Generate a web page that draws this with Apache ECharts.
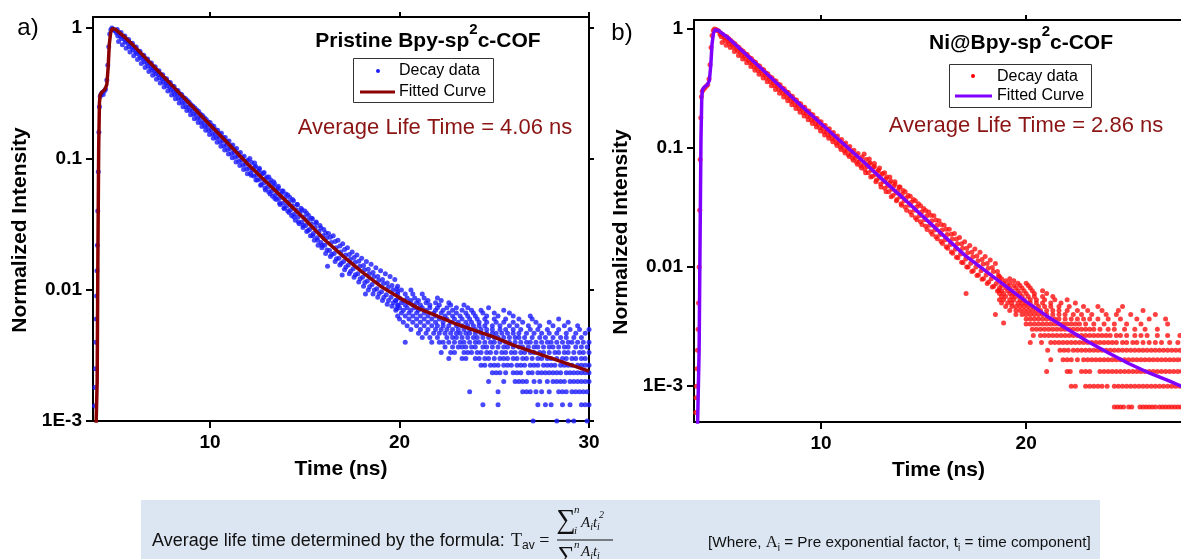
<!DOCTYPE html>
<html><head><meta charset="utf-8">
<script src="https://cdn.jsdelivr.net/npm/echarts@6/dist/echarts.min.js"></script>
<style>html,body{margin:0;padding:0;background:#fff}#c{width:1181px;height:559px}</style>
</head><body><div id="c"></div>
<script>
// ---------- axis ticks ----------
const xTicksA = [10, 20, 30];
const xTicksB = [10, 20];
const yTickValues = [0.001, 0.01, 0.1, 1];
const yTickText = ['1E-3', '0.01', '0.1', '1'];

// ---------- panel a: fitted curve ----------
const fitA_t = [3.95, 4.04, 4.08, 4.12, 4.16, 4.2, 4.3, 4.45, 4.55, 4.62, 4.68, 4.75, 4.82, 4.9, 5.0, 5.5, 6, 7, 8, 9, 10, 11, 12, 13, 14, 15, 16, 17, 18, 19, 20, 21, 22, 23, 24, 25, 26, 27, 28, 29, 30];
const fitA_y = [0.0006, 0.002, 0.02, 0.12, 0.27, 0.31, 0.325, 0.34, 0.37, 0.5, 0.75, 0.92, 0.985, 0.99, 0.977, 0.851, 0.724, 0.513, 0.363, 0.257, 0.182, 0.129, 0.0912, 0.0661, 0.0479, 0.0347, 0.0245, 0.0182, 0.0138, 0.0107, 0.00871, 0.00724, 0.00631, 0.0055, 0.0049, 0.00437, 0.0038, 0.00339, 0.00302, 0.00269, 0.0024];

// ---------- panel a: decay data (dense band) ----------
const decayA_band = [
[3.9,0.0013],[3.92,0.0018],[3.95,0.0025],[3.97,0.004],[3.99,0.006],[4.01,0.009],[4.03,0.014],[4.05,0.022],[4.07,0.04],[4.1,0.08],[4.13,0.16],[4.16,0.25],[4.2,0.3],[4.25,0.31],[4.3,0.32],[4.36,0.31],[4.42,0.33],[4.48,0.34],[4.55,0.4],[4.6,0.52],[4.65,0.72],[4.7,0.9],[4.76,0.97],[4.82,1.0],[4.88,0.98],[4.94,0.96],
[5.0,0.95],[5.07,0.91],[5.13,0.87],[5.2,0.92],[5.27,0.86],[5.33,0.83],[5.4,0.86],[5.47,0.82],[5.53,0.78],
[5.6,0.80],[5.67,0.76],[5.73,0.72],[5.8,0.76],[5.87,0.71],[5.93,0.68],[6.0,0.71],[6.07,0.66],[6.13,0.64],
[6.2,0.66],[6.27,0.62],[6.33,0.59],[6.4,0.62],[6.47,0.58],[6.53,0.55],[6.6,0.58],[6.67,0.54],[6.73,0.51],
[6.8,0.54],[6.87,0.50],[6.93,0.475],[7.0,0.50],[7.07,0.47],[7.13,0.445],[7.2,0.47],[7.27,0.44],[7.33,0.415],
[7.4,0.44],[7.47,0.41],[7.53,0.385],[7.6,0.41],[7.67,0.38],[7.73,0.36],[7.8,0.385],[7.87,0.355],[7.93,0.335],
[8.0,0.36],[8.07,0.33],[8.13,0.31],[8.2,0.335],[8.27,0.31],[8.33,0.29],[8.4,0.315],[8.47,0.29],[8.53,0.27],
[8.6,0.295],[8.67,0.27],[8.73,0.25],[8.8,0.28],[8.87,0.25],[8.93,0.235],[9.0,0.26],[9.07,0.235],[9.13,0.22],
[9.2,0.245],[9.27,0.22],[9.33,0.205],[9.4,0.23],[9.47,0.205],[9.53,0.19],[9.6,0.215],[9.67,0.19],[9.73,0.178],
[9.8,0.2],[9.87,0.178],[9.93,0.165],[10.0,0.19],[10.07,0.167],[10.13,0.155],[10.2,0.178],[10.27,0.155],[10.33,0.145],
[10.4,0.166],[10.47,0.146],[10.53,0.135],[10.6,0.157],[10.67,0.137],[10.73,0.126],[10.8,0.146],[10.87,0.128],[10.93,0.118],
[11.0,0.137],[11.07,0.12],[11.13,0.11],[11.2,0.128],[11.27,0.112],[11.33,0.103],[11.4,0.12],[11.47,0.105],[11.53,0.096],
[11.6,0.112],[11.67,0.098],[11.73,0.09],[11.8,0.105],[11.87,0.091],[11.93,0.084],[12.0,0.098],[12.07,0.085],[12.13,0.078],
[5.1,0.975],[5.17,0.79],[5.3,0.925],[5.37,0.745],[5.5,0.87],[5.57,0.70],[5.7,0.815],[5.77,0.655],[5.9,0.765],[5.97,0.615],
[6.1,0.715],[6.17,0.575],[6.3,0.665],[6.37,0.535],[6.5,0.62],[6.57,0.50],[6.7,0.58],[6.77,0.466],[6.9,0.54],[6.97,0.435],
[7.1,0.505],[7.17,0.407],[7.3,0.472],[7.37,0.38],[7.5,0.44],[7.57,0.354],[7.7,0.41],[7.77,0.33],[7.9,0.384],[7.97,0.308],
[8.1,0.358],[8.17,0.288],[8.3,0.333],[8.37,0.268],[8.5,0.311],[8.57,0.25],[8.7,0.29],[8.77,0.234],[8.9,0.271],[8.97,0.218],
[9.1,0.253],[9.17,0.203],[9.3,0.237],[9.37,0.19],[9.5,0.22],[9.57,0.177],[9.7,0.206],[9.77,0.166],[9.9,0.192],[9.97,0.154],
[10.1,0.18],[10.17,0.144],[10.3,0.167],[10.37,0.134],[10.5,0.156],[10.57,0.125],[10.7,0.146],[10.77,0.117],[10.9,0.136],[10.97,0.109],
[11.1,0.126],[11.17,0.102],[11.3,0.118],[11.37,0.095],[11.5,0.11],[11.57,0.089],[11.7,0.103],[11.77,0.083],[11.9,0.096],[11.97,0.077],
[12.2,0.094],[12.25,0.082],[12.3,0.074],[12.35,0.087],[12.4,0.088],[12.45,0.075],[12.5,0.069],[12.55,0.081],
[12.6,0.083],[12.65,0.07],[12.7,0.064],[12.75,0.077],[12.8,0.078],[12.85,0.066],[12.9,0.06],[12.95,0.071],
[13.0,0.073],[13.05,0.061],[13.1,0.056],[13.15,0.066],[13.2,0.069],[13.25,0.057],[13.3,0.052],[13.35,0.062],
[13.4,0.065],[13.45,0.053],[13.5,0.049],[13.55,0.058],[13.6,0.06],[13.65,0.05],[13.7,0.045],[13.75,0.054],
[13.8,0.057],[13.85,0.046],[13.9,0.042],[13.95,0.05],[14.0,0.054],[14.05,0.044],[14.1,0.04],[14.15,0.047],
[14.2,0.051],[14.25,0.041],[14.3,0.037],[14.35,0.044],[14.4,0.048],[14.45,0.038],[14.5,0.034],[14.55,0.041],
[14.6,0.045],[14.65,0.036],[14.7,0.032],[14.75,0.039],[14.8,0.042],[14.85,0.033],[14.9,0.03],[14.95,0.036],
[15.0,0.04],[15.05,0.031],[15.1,0.028],[15.15,0.034],[15.2,0.037],[15.25,0.029],[15.3,0.026],[15.35,0.032],
[15.4,0.035],[15.45,0.027],[15.5,0.024],[15.55,0.03],[15.6,0.033],[15.65,0.025],[15.7,0.022],[15.75,0.028],
[15.8,0.031],[15.85,0.023],[15.9,0.021],[15.95,0.026],[16.0,0.029],[16.05,0.022],[16.1,0.019],[16.15,0.025],
[16.25,0.027],[16.3,0.02],[16.35,0.018],[16.4,0.023],[16.5,0.026],[16.55,0.019],[16.6,0.0165],[16.65,0.021],
[16.75,0.024],[16.8,0.0175],[16.85,0.0155],[16.9,0.0195],[17.0,0.0225],[17.05,0.0165],[17.1,0.0143],[17.15,0.0185],
[17.25,0.021],[17.3,0.0155],[17.35,0.0133],[17.4,0.0172],[17.5,0.0195],[17.55,0.0145],[17.6,0.0125],[17.65,0.0163],
[17.75,0.0185],[17.8,0.0133],[17.85,0.0115],[17.9,0.0152],[18.0,0.0175],[18.05,0.0125],[18.1,0.0107],[18.15,0.0143],
[18.25,0.0165],[18.3,0.0117],[18.35,0.01],[18.4,0.0133],[18.5,0.0157],[18.55,0.011],[18.6,0.0093],[18.65,0.0127],
[18.75,0.0148],[18.8,0.0102],[18.85,0.0088],[18.9,0.0118],[19.0,0.014],[19.05,0.0097],[19.1,0.0083],[19.15,0.0112],
[19.25,0.0133],[19.3,0.0092],[19.35,0.0078],[19.4,0.0105],[19.5,0.0127],[19.55,0.0088],[19.6,0.0075],[19.65,0.01],
[19.75,0.012],[19.8,0.0083],[19.85,0.0072],[19.9,0.0097],
[12.1,0.101],[12.17,0.075],[12.35,0.093],[12.42,0.069],[12.6,0.085],[12.67,0.063],[12.85,0.079],[12.92,0.058],
[13.1,0.073],[13.17,0.054],[13.35,0.067],[13.42,0.05],[13.6,0.062],[13.67,0.046],[13.85,0.057],[13.92,0.042],
[14.1,0.053],[14.17,0.039],[14.35,0.049],[14.42,0.036],[14.6,0.045],[14.67,0.033],[14.85,0.041],[14.92,0.031],
[15.1,0.0385],[15.17,0.0285],[15.35,0.0353],[15.42,0.026],[15.6,0.0324],[15.67,0.024],[15.85,0.0297],[15.92,0.022],
[16.1,0.0274],[16.17,0.0202],[16.35,0.0253],[16.42,0.0187],[16.6,0.0235],[16.67,0.0173],[16.85,0.0217],[16.92,0.016],
[17.1,0.0204],[17.17,0.015],[17.35,0.0187],[17.42,0.0139],[17.6,0.0177],[17.67,0.0131],[17.85,0.0166],[17.92,0.0122],
[18.1,0.0154],[18.17,0.0114],[18.35,0.0144],[18.42,0.0106],[18.6,0.0136],[18.67,0.01],[18.85,0.0127],[18.92,0.0094],
[19.1,0.012],[19.17,0.0088],[19.35,0.0113],[19.42,0.0083],[19.6,0.0108],[19.67,0.008],[19.85,0.0102],[19.92,0.0076],
[16.2,0.0152],[16.97,0.013],[18.2,0.0093],[20.3,0.004]
];
// ---------- panel a: decay data (discrete count rows, level + times) ----------
const decayA_rows = [
[0.001,   [27.05, 28.3, 28.9, 29.2, 29.9]],
[0.00133, [24.4, 25.2, 27.3, 27.7, 28.0, 28.6, 29.0, 29.6, 29.8, 30.0]],
[0.00167, [23.7, 25.2, 26.5, 26.7, 26.9, 27.2, 27.5, 27.9, 28.4, 28.6, 28.8, 29.1, 29.3, 29.5, 29.7, 29.9]],
[0.002,   [24.7, 25.5, 26.1, 26.3, 26.5, 26.7, 27.1, 27.4, 27.8, 28.1, 28.3, 28.5, 28.7, 29.0, 29.2, 29.4, 29.6, 29.8, 30.0]],
[0.00233, [24.9, 25.1, 25.3, 25.6, 26.0, 26.2, 26.4, 26.8, 27.0, 27.3, 27.5, 27.7, 27.9, 28.1, 28.3, 28.5, 28.8, 29.0, 29.2, 29.4, 29.6, 29.8, 30.0]],
[0.00267, [24.3, 24.5, 24.8, 25.0, 25.2, 25.5, 25.7, 25.9, 26.2, 26.4, 26.6, 26.9, 27.1, 27.3, 27.6, 27.8, 28.0, 28.2, 28.5, 28.7, 28.9, 29.1, 29.4, 29.6, 29.8, 30.0]],
[0.003,   [22.6, 23.3, 23.5, 24.0, 24.2, 24.5, 24.7, 25.0, 25.3, 25.5, 25.7, 26.0, 26.2, 26.5, 26.7, 27.0, 27.3, 27.5, 27.8, 28.0, 28.3, 28.6, 28.8, 29.1, 29.3, 29.6, 29.8]],
[0.00333, [22.2, 22.7, 22.9, 23.4, 23.6, 23.8, 24.1, 24.3, 24.6, 24.8, 25.1, 25.4, 25.6, 25.9, 26.1, 26.4, 26.6, 26.9, 27.1, 27.4, 27.6, 27.9, 28.2, 28.4, 28.7, 28.9, 29.2, 29.5, 29.7, 30.0]],
[0.00367, [22.4, 22.8, 23.1, 23.3, 23.5, 23.8, 24.0, 24.4, 24.6, 24.9, 25.2, 25.5, 25.7, 26.0, 26.3, 26.5, 26.8, 27.1, 27.3, 27.6, 27.9, 28.1, 28.4, 28.7, 28.9, 29.3, 29.6, 29.9]],
[0.004,   [21.7, 22.1, 22.3, 22.6, 22.9, 23.2, 23.4, 23.7, 24.0, 24.2, 24.5, 24.8, 25.0, 25.3, 25.6, 25.8, 26.1, 26.4, 26.7, 26.9, 27.2, 27.5, 27.8, 28.0, 28.3, 28.6, 28.9, 29.1, 29.4, 29.7, 30.0]],
[0.00433, [21.2, 21.6, 22.0, 22.5, 22.8, 23.0, 23.3, 23.6, 23.9, 24.1, 24.4, 24.7, 25.0, 25.2, 25.5, 25.8, 26.1, 26.3, 26.6, 27.0, 27.4, 27.7, 28.1, 28.5, 28.8, 29.2, 29.6]],
[0.00467, [21.0, 21.4, 21.8, 22.1, 22.4, 22.7, 23.0, 23.2, 23.5, 23.7, 24.0, 24.3, 24.6, 24.9, 25.1, 25.4, 25.7, 26.0, 26.3, 26.7, 27.1, 27.5, 27.9, 28.3, 28.8, 29.3, 29.8]],
[0.005,   [20.6, 21.1, 21.5, 21.9, 22.2, 22.5, 22.8, 23.1, 23.4, 23.7, 24.0, 24.3, 24.6, 24.9, 25.3, 25.6, 26.0, 26.4, 26.9, 27.3, 27.8, 28.4, 29.0, 29.5, 30.0]],
[0.00533, [20.4, 20.9, 21.3, 21.7, 22.0, 22.3, 22.6, 23.0, 23.3, 23.6, 23.9, 24.2, 24.5, 24.9, 25.3, 25.8, 26.2, 26.8, 27.4, 28.1, 28.7, 29.4]],
[0.00567, [20.2, 20.7, 21.1, 21.5, 21.9, 22.3, 22.7, 23.1, 23.5, 23.8, 24.2, 24.6, 25.1, 25.5, 26.0, 26.5, 27.2, 27.9, 28.9]],
[0.006,   [20.0, 20.5, 20.9, 21.3, 21.7, 22.1, 22.5, 22.9, 23.3, 23.7, 24.1, 24.5, 25.0, 25.6, 26.3, 27.0, 28.4]],
[0.00633, [19.9, 20.3, 20.7, 21.1, 21.5, 21.9, 22.4, 22.8, 23.2, 23.6, 24.0, 24.6, 25.2, 26.0, 26.9]],
[0.00667, [20.1, 20.5, 20.9, 21.3, 21.8, 22.2, 22.6, 23.0, 23.5, 23.9, 24.4, 25.0, 25.8]],
[0.007,   [19.8, 20.2, 20.6, 21.0, 21.4, 21.9, 22.3, 22.8, 23.3, 23.8, 24.3, 25.5]],
[0.00733, [20.0, 20.4, 20.8, 21.2, 21.6, 22.0, 22.5, 23.0, 23.6, 24.7]],
[0.00767, [19.9, 20.3, 20.7, 21.1, 21.6, 22.1, 22.7, 23.4]],
[0.008,   [20.1, 20.5, 20.9, 21.4, 21.9, 22.6]],
[0.00833, [19.8, 20.2, 20.6, 21.0, 21.5, 22.2]],
[0.00867, [20.0, 20.4, 20.8, 21.3, 22.0]],
[0.00933, [19.9, 20.3, 20.7, 21.2]],
[0.01,    [20.1, 20.6]],
[0.0107,  [19.9]]
];

// ---------- panel b: fitted curve ----------
const fitB_t = [3.95, 4.05, 4.1, 4.14, 4.18, 4.22, 4.3, 4.45, 4.55, 4.62, 4.68, 4.75, 4.82, 4.9, 5.0, 5.5, 6, 7, 8, 9, 10, 11, 12, 13, 14, 15, 16, 17, 18, 19, 20, 21, 22, 23, 24, 25, 26, 27, 28];
const fitB_y = [0.0003, 0.002, 0.02, 0.12, 0.27, 0.31, 0.325, 0.34, 0.37, 0.5, 0.75, 0.92, 0.985, 0.99, 0.97, 0.832, 0.692, 0.479, 0.331, 0.229, 0.16, 0.112, 0.0785, 0.0543, 0.038, 0.0263, 0.0182, 0.0126, 0.00933, 0.00692, 0.00513, 0.00389, 0.00302, 0.00237, 0.00191, 0.00155, 0.00129, 0.0011, 0.00093];

// ---------- panel b: decay data (dense band) ----------
const decayB_band = [
[3.88,0.0006],[3.9,0.0008],[3.92,0.001],[3.95,0.0014],[3.97,0.002],[4.0,0.003],[4.02,0.005],[4.05,0.01],[4.08,0.03],[4.1,0.08],[4.13,0.18],[4.16,0.27],[4.2,0.3],[4.26,0.31],[4.32,0.32],[4.4,0.33],[4.47,0.34],[4.53,0.38],[4.58,0.5],[4.63,0.7],[4.68,0.88],[4.74,0.97],[4.8,1.0],[4.88,0.99],[4.94,0.97],
[5.0,0.96],[5.07,0.9],[5.13,0.86],[5.2,0.9],[5.27,0.84],[5.33,0.8],[5.4,0.86],[5.47,0.79],[5.53,0.75],
[5.6,0.8],[5.67,0.74],[5.73,0.7],[5.8,0.75],[5.87,0.69],[5.93,0.65],[6.0,0.7],[6.07,0.64],[6.13,0.6],
[6.2,0.65],[6.27,0.6],[6.33,0.56],[6.4,0.61],[6.47,0.55],[6.53,0.52],[6.6,0.565],[6.67,0.515],[6.73,0.48],
[6.8,0.525],[6.87,0.48],[6.93,0.445],[7.0,0.49],[7.07,0.445],[7.13,0.415],[7.2,0.455],[7.27,0.415],[7.33,0.385],
[7.4,0.42],[7.47,0.385],[7.53,0.36],[7.6,0.39],[7.67,0.355],[7.73,0.333],[7.8,0.365],[7.87,0.33],[7.93,0.31],
[8.0,0.34],[8.07,0.308],[8.13,0.287],[8.2,0.315],[8.27,0.287],[8.33,0.266],[8.4,0.293],[8.47,0.266],[8.53,0.247],
[8.6,0.272],[8.67,0.247],[8.73,0.23],[8.8,0.253],[8.87,0.229],[8.93,0.213],[9.0,0.236],[9.07,0.213],[9.13,0.198],
[9.2,0.22],[9.27,0.198],[9.33,0.184],[9.4,0.205],[9.47,0.184],[9.53,0.171],[9.6,0.19],[9.67,0.171],[9.73,0.159],
[9.8,0.177],[9.87,0.16],[9.93,0.148],[10.0,0.166],[10.07,0.148],[10.13,0.137],[10.2,0.155],[10.27,0.138],[10.33,0.128],
[10.4,0.145],[10.47,0.128],[10.53,0.119],[10.6,0.135],[10.67,0.119],[10.73,0.11],[10.8,0.126],[10.87,0.111],[10.93,0.102],
[11.0,0.118],[11.07,0.103],[11.13,0.095],[11.2,0.11],[11.27,0.096],[11.33,0.088],[11.4,0.103],[11.47,0.089],[11.53,0.082],
[11.6,0.096],[11.67,0.083],[11.73,0.076],[11.8,0.09],[11.87,0.077],[11.93,0.071],[12.0,0.084],[12.07,0.072],[12.13,0.066],
[5.1,0.92],[5.17,0.77],[5.3,0.87],[5.37,0.73],[5.5,0.83],[5.57,0.70],[5.7,0.77],[5.77,0.647],[5.9,0.716],[5.97,0.60],
[6.1,0.667],[6.17,0.56],[6.3,0.62],[6.37,0.52],[6.5,0.576],[6.57,0.484],[6.7,0.535],[6.77,0.45],[6.9,0.497],[6.97,0.417],
[7.1,0.462],[7.17,0.388],[7.3,0.429],[7.37,0.36],[7.5,0.398],[7.57,0.334],[7.7,0.37],[7.77,0.311],[7.9,0.343],[7.97,0.288],
[8.1,0.319],[8.17,0.268],[8.3,0.297],[8.37,0.25],[8.5,0.275],[8.57,0.231],[8.7,0.256],[8.77,0.215],[8.9,0.238],[8.97,0.2],
[9.1,0.221],[9.17,0.186],[9.3,0.206],[9.37,0.173],[9.5,0.192],[9.57,0.161],[9.7,0.178],[9.77,0.15],[9.9,0.166],[9.97,0.139],
[10.1,0.154],[10.17,0.129],[10.3,0.144],[10.37,0.121],[10.5,0.134],[10.57,0.113],[10.7,0.125],[10.77,0.105],[10.9,0.116],[10.97,0.097],
[11.1,0.108],[11.17,0.091],[11.3,0.101],[11.37,0.085],[11.5,0.094],[11.57,0.079],[11.7,0.087],[11.77,0.073],[11.9,0.081],[11.97,0.068],
[12.2,0.08],[12.25,0.07],[12.3,0.062],[12.35,0.074],[12.4,0.075],[12.45,0.065],[12.5,0.058],[12.55,0.069],
[12.6,0.07],[12.65,0.06],[12.7,0.054],[12.75,0.064],[12.8,0.065],[12.85,0.056],[12.9,0.05],[12.95,0.06],
[13.0,0.061],[13.05,0.052],[13.1,0.046],[13.15,0.055],[13.2,0.057],[13.25,0.048],[13.3,0.043],[13.35,0.051],
[13.4,0.053],[13.45,0.045],[13.5,0.04],[13.55,0.048],[13.6,0.05],[13.65,0.042],[13.7,0.037],[13.75,0.044],
[13.8,0.047],[13.85,0.039],[13.9,0.034],[13.95,0.041],[14.0,0.044],[14.05,0.036],[14.1,0.032],[14.15,0.038],
[14.25,0.04],[14.3,0.033],[14.35,0.029],[14.4,0.035],[14.5,0.037],[14.55,0.03],[14.6,0.026],[14.65,0.032],
[14.75,0.034],[14.8,0.027],[14.85,0.024],[14.9,0.029],[15.0,0.031],[15.05,0.025],[15.1,0.022],[15.15,0.027],
[15.25,0.029],[15.3,0.0225],[15.35,0.0198],[15.4,0.0245],[15.5,0.027],[15.55,0.0205],[15.6,0.018],[15.65,0.0225],
[15.75,0.0245],[15.8,0.0188],[15.85,0.0164],[15.9,0.0205],[16.0,0.0225],[16.05,0.017],[16.1,0.0148],[16.15,0.0188],
[16.25,0.0208],[16.3,0.0155],[16.35,0.0134],[16.4,0.0172],[16.5,0.0192],[16.55,0.0141],[16.6,0.0121],[16.65,0.0157],
[16.75,0.0177],[16.8,0.0129],[16.85,0.011],[16.9,0.0144],[17.0,0.0163],[17.05,0.0117],[17.1,0.01],[17.15,0.0132],
[17.25,0.0152],[17.3,0.0108],[17.35,0.0092],[17.4,0.0122],[17.5,0.0142],[17.55,0.01],[17.6,0.0085],[17.65,0.0113],
[17.75,0.0133],[17.8,0.0093],[17.85,0.0079],[17.9,0.0106],[18.0,0.0123],[18.05,0.0086],[18.1,0.0073],[18.15,0.0098],
[18.25,0.0115],[18.3,0.008],[18.35,0.0068],[18.4,0.0092],[18.5,0.0107],[18.55,0.0073],[18.6,0.0063],[18.65,0.0085],
[12.1,0.089],[12.17,0.062],[12.35,0.081],[12.42,0.057],[12.6,0.074],[12.67,0.052],[12.85,0.068],[12.92,0.047],
[13.1,0.062],[13.17,0.043],[13.35,0.057],[13.42,0.039],[13.6,0.052],[13.67,0.036],[13.85,0.047],[13.92,0.033],
[14.1,0.043],[14.17,0.03],[14.35,0.0394],[14.42,0.0274],[14.6,0.036],[14.67,0.025],[14.85,0.0328],[14.92,0.0228],
[15.1,0.0299],[15.17,0.0207],[15.35,0.0273],[15.42,0.0189],[15.6,0.0249],[15.67,0.0173],[15.85,0.0228],[15.92,0.0158],
[16.1,0.0208],[16.17,0.0144],[16.35,0.0189],[16.42,0.0131],[16.6,0.0172],[16.67,0.012],[16.85,0.0157],[16.92,0.0109],
[17.1,0.0144],[17.17,0.01],[17.35,0.0133],[17.42,0.0093],[17.6,0.0124],[17.67,0.0086],[17.85,0.0116],[17.92,0.008],
[18.1,0.0107],[18.17,0.0075],[18.35,0.0099],[18.42,0.0069],[18.6,0.0092],[18.67,0.0064],
[17.07,0.006],[18.5,0.004],[18.9,0.0034]
];
// ---------- panel b: decay data (discrete count rows, level + times) ----------
const decayB_rows = [
[0.000667,[24.3, 24.45, 24.6, 24.75, 25.0, 25.15, 25.55, 25.7, 25.85, 26.0, 26.15, 26.3, 26.5, 26.65, 26.8, 26.95, 27.1, 27.25, 27.4, 27.55]],
[0.001,   [22.2, 22.4, 22.9, 23.1, 23.3, 23.5, 23.7, 23.95, 24.3, 24.5, 24.7, 24.9, 25.1, 25.3, 25.5, 25.7, 25.9, 26.1, 26.3, 26.5, 26.7, 26.9, 27.1, 27.3, 27.5]],
[0.00133, [21.0, 22.0, 22.15, 22.7, 22.9, 23.1, 23.6, 23.8, 24.0, 24.2, 24.4, 24.6, 24.8, 25.0, 25.2, 25.4, 25.6, 25.8, 26.0, 26.2, 26.4, 26.6, 26.8, 27.0, 27.2, 27.4, 27.6]],
[0.00167, [21.2, 21.8, 22.0, 22.2, 22.5, 22.8, 23.0, 23.2, 23.4, 23.6, 23.8, 24.0, 24.2, 24.4, 24.6, 24.8, 25.0, 25.2, 25.4, 25.6, 25.8, 26.0, 26.2, 26.4, 26.6, 26.8, 27.0, 27.2, 27.4, 27.6]],
[0.002,   [21.05, 21.65, 21.85, 22.05, 22.3, 22.5, 22.7, 22.9, 23.1, 23.3, 23.5, 23.7, 23.9, 24.1, 24.3, 24.5, 24.7, 24.9, 25.1, 25.3, 25.5, 25.7, 25.9, 26.1, 26.3, 26.5, 26.7, 26.9, 27.1, 27.3, 27.5]],
[0.00233, [20.2, 20.75, 21.2, 21.4, 21.6, 21.8, 22.0, 22.2, 22.4, 22.6, 22.8, 23.0, 23.2, 23.4, 23.6, 23.8, 24.0, 24.2, 24.4, 24.7, 24.9, 25.2, 25.4, 25.7, 26.0, 26.3, 26.6, 27.0, 27.4]],
[0.00267, [20.35, 20.7, 20.9, 21.1, 21.3, 21.5, 21.7, 21.9, 22.1, 22.3, 22.5, 22.7, 22.9, 23.1, 23.3, 23.5, 23.7, 23.9, 24.1, 24.4, 24.6, 24.9, 25.3, 25.6, 25.9, 26.4, 26.9, 27.5]],
[0.003,   [20.3, 20.5, 20.7, 20.9, 21.1, 21.3, 21.5, 21.7, 21.9, 22.1, 22.3, 22.5, 22.7, 22.9, 23.1, 23.3, 23.6, 24.0, 24.3, 24.8, 25.3, 25.8, 26.4]],
[0.00333, [20.0, 20.2, 20.4, 20.6, 20.8, 21.0, 21.2, 21.4, 21.6, 21.8, 22.0, 22.2, 22.4, 22.6, 22.9, 23.3, 23.8, 24.3, 24.9, 25.6, 26.9]],
[0.00367, [20.0, 20.2, 20.4, 20.6, 20.8, 21.0, 21.2, 21.4, 21.6, 21.9, 22.2, 22.5, 22.8, 23.1, 23.5, 24.0, 24.6, 25.4, 26.0, 26.8]],
[0.004,   [19.5, 19.8, 20.0, 20.2, 20.4, 20.6, 20.8, 21.0, 21.3, 21.6, 21.9, 22.3, 22.7, 23.2, 23.9, 24.4, 25.1, 26.3]],
[0.00433, [19.2, 19.5, 19.7, 19.9, 20.1, 20.3, 20.5, 20.7, 21.0, 21.3, 21.6, 22.0, 22.5, 23.0, 23.7, 24.5, 25.7]],
[0.00467, [19.0, 19.3, 19.5, 19.7, 19.9, 20.1, 20.3, 20.6, 20.9, 21.2, 21.6, 22.1, 22.8, 23.5, 24.7]],
[0.005,   [18.8, 19.1, 19.3, 19.6, 19.8, 20.0, 20.2, 20.5, 20.8, 21.2, 21.7, 22.4]],
[0.00533, [18.7, 18.9, 19.2, 19.4, 19.7, 19.9, 20.2, 20.5, 20.9, 21.4, 22.0]],
[0.00567, [18.8, 19.0, 19.3, 19.5, 19.8, 20.1, 20.4, 20.8, 21.3]],
[0.006,   [18.7, 18.9, 19.2, 19.4, 19.7, 20.0, 20.4, 21.0]],
[0.00633, [18.8, 19.1, 19.3, 19.6, 19.9, 20.3, 20.8]],
[0.00667, [18.7, 19.0, 19.2, 19.5, 19.8, 20.2]],
[0.007,   [18.8, 19.1, 19.4, 19.7, 20.1]],
[0.00733, [18.9, 19.2, 19.6, 20.0]],
[0.00767, [18.7, 19.0, 19.4]],
[0.008,   [18.8, 19.2]],
[0.00833, [18.7]]
];

// ---------- build series data ----------
function rowsToPoints(rows) {
  const out = [];
  rows.forEach(function (r) { r[1].forEach(function (t) { out.push([t, r[0]]); }); });
  return out;
}
const scatterA = decayA_band.concat(rowsToPoints(decayA_rows));
const scatterB = decayB_band.concat(rowsToPoints(decayB_rows));
const fitA = fitA_t.map(function (t, i) { return [t, fitA_y[i]]; });
const fitB = fitB_t.map(function (t, i) { return [t, fitB_y[i]]; });

const FF = '"Liberation Sans", Arial, Helvetica, sans-serif';
const SERIF = '"Liberation Serif", "Times New Roman", serif';
const tickFont = { fontFamily: FF, fontWeight: 'bold', fontSize: 19, color: '#000' };
const axisLineStyle = { color: '#000', width: 2 };

function yLabel(v) {
  for (let i = 0; i < yTickValues.length; i++) {
    if (Math.abs(Math.log10(v) - Math.log10(yTickValues[i])) < 1e-6) return yTickText[i];
  }
  return '';
}

function xBottom(grid, min, max, ticks) {
  return {
    gridIndex: grid, type: 'value', min: min, max: max, position: 'bottom',
    axisLine: { onZero: false, lineStyle: axisLineStyle },
    axisTick: { customValues: ticks, length: 7, inside: false, lineStyle: axisLineStyle },
    axisLabel: Object.assign({ customValues: ticks, margin: 12 }, tickFont),
    splitLine: { show: false },
    name: 'Time (ns)', nameLocation: 'middle', nameGap: 38,
    nameTextStyle: { fontFamily: FF, fontWeight: 'bold', fontSize: 21, color: '#000' }
  };
}
function xTop(grid, min, max, ticks) {
  return {
    gridIndex: grid, type: 'value', min: min, max: max, position: 'top',
    axisLine: { onZero: false, lineStyle: axisLineStyle },
    axisTick: { customValues: ticks, length: 5, lineStyle: axisLineStyle },
    axisLabel: { show: false, customValues: ticks },
    splitLine: { show: false }
  };
}
function yLeft(grid, min, max, gap) {
  return {
    gridIndex: grid, type: 'log', logBase: 10, min: min, max: max, position: 'left',
    axisLine: { onZero: false, lineStyle: axisLineStyle },
    axisTick: { customValues: yTickValues, length: 7, lineStyle: axisLineStyle },
    axisLabel: Object.assign({ customValues: yTickValues, margin: 11, formatter: yLabel }, tickFont),
    splitLine: { show: false }, minorTick: { show: false },
    name: 'Normalized Intensity', nameLocation: 'middle', nameGap: gap, nameRotate: 90,
    nameTextStyle: { fontFamily: FF, fontWeight: 'bold', fontSize: 21, color: '#000', padding: [0, 22, 0, 0] }
  };
}
function yRight(grid, min, max, show) {
  return {
    gridIndex: grid, type: 'log', logBase: 10, min: min, max: max, position: 'right', show: show,
    axisLine: { onZero: false, lineStyle: axisLineStyle },
    axisTick: { customValues: yTickValues, length: 5, lineStyle: axisLineStyle },
    axisLabel: { show: false, customValues: yTickValues },
    splitLine: { show: false }
  };
}

const titleRich = {
  b: { fontSize: 21, fontWeight: 'bold', fontFamily: FF, lineHeight: 30, verticalAlign: 'bottom', fill: '#000' },
  s: { fontSize: 15, fontWeight: 'bold', fontFamily: FF, lineHeight: 15, verticalAlign: 'top', fill: '#000' }
};
const fracRich = {
  v: { fontSize: 15, fontStyle: 'italic', fontFamily: SERIF, lineHeight: 18, verticalAlign: 'middle', fill: '#111' },
  sb: { fontSize: 10, fontStyle: 'italic', fontFamily: SERIF, lineHeight: 10, verticalAlign: 'bottom', fill: '#111' }
};

const graphic = [
  // panel labels
  { type: 'text', x: 28, y: 28, style: { text: 'a)', font: '24px ' + FF, fill: '#000', align: 'center', verticalAlign: 'middle' } },
  { type: 'text', x: 622, y: 33, style: { text: 'b)', font: '24px ' + FF, fill: '#000', align: 'center', verticalAlign: 'middle' } },
  // titles
  { type: 'text', x: 428, y: 37, style: { text: '{b|Pristine Bpy-sp}{s|2}{b|c-COF}', align: 'center', verticalAlign: 'middle', rich: titleRich } },
  { type: 'text', x: 1021, y: 39, style: { text: '{b|Ni@Bpy-sp}{s|2}{b|c-COF}', align: 'center', verticalAlign: 'middle', rich: titleRich } },
  // legend a
  { type: 'rect', shape: { x: 353.5, y: 58.5, width: 140, height: 44 }, style: { fill: '#fff', stroke: '#333', lineWidth: 1 } },
  { type: 'circle', shape: { cx: 378, cy: 71, r: 2 }, style: { fill: '#1e1eff' } },
  { type: 'line', shape: { x1: 360, y1: 92, x2: 395, y2: 92 }, style: { stroke: '#8b0000', lineWidth: 3 } },
  { type: 'text', x: 399, y: 71, style: { text: 'Decay data', font: '16px ' + FF, fill: '#000', align: 'left', verticalAlign: 'middle' } },
  { type: 'text', x: 399, y: 92, style: { text: 'Fitted Curve', font: '16px ' + FF, fill: '#000', align: 'left', verticalAlign: 'middle' } },
  // legend b
  { type: 'rect', shape: { x: 949.5, y: 64.5, width: 142, height: 43 }, style: { fill: '#fff', stroke: '#333', lineWidth: 1 } },
  { type: 'circle', shape: { cx: 973, cy: 76, r: 2 }, style: { fill: '#ff0000' } },
  { type: 'line', shape: { x1: 955, y1: 96, x2: 992, y2: 96 }, style: { stroke: '#8000ff', lineWidth: 3 } },
  { type: 'text', x: 997, y: 77, style: { text: 'Decay data', font: '16px ' + FF, fill: '#000', align: 'left', verticalAlign: 'middle' } },
  { type: 'text', x: 997, y: 96, style: { text: 'Fitted Curve', font: '16px ' + FF, fill: '#000', align: 'left', verticalAlign: 'middle' } },
  // average lifetime
  { type: 'text', x: 435, y: 128, style: { text: 'Average Life Time = 4.06 ns', font: '22px ' + FF, fill: '#8b1414', align: 'center', verticalAlign: 'middle' } },
  { type: 'text', x: 1026, y: 126, style: { text: 'Average Life Time = 2.86 ns', font: '22px ' + FF, fill: '#8b1414', align: 'center', verticalAlign: 'middle' } },
  // formula box
  { type: 'rect', shape: { x: 141, y: 500, width: 959, height: 59 }, style: { fill: '#dce6f2' }, z: -1 },
  { type: 'text', x: 152, y: 541, style: { text: 'Average life time determined by the formula:', font: '18px ' + FF, fill: '#111', align: 'left', verticalAlign: 'middle' } },
  { type: 'text', x: 511, y: 541, style: { text: '{s|T}{sub|av}{s| =}', align: 'left', verticalAlign: 'middle',
      rich: { s: { fontSize: 18, fontFamily: SERIF, lineHeight: 22, verticalAlign: 'middle', fill: '#111' },
              sub: { fontSize: 12, fontFamily: FF, lineHeight: 12, verticalAlign: 'bottom', fill: '#111' } } } },
  { type: 'line', shape: { x1: 557, y1: 540, x2: 613, y2: 540 }, style: { stroke: '#111', lineWidth: 1 } },
  { type: 'text', x: 566, y: 521, style: { text: '\u2211', font: '27px ' + SERIF, fill: '#111', align: 'center', verticalAlign: 'middle' } },
  { type: 'text', x: 574, y: 510, style: { text: 'n', font: 'italic 11px ' + SERIF, fill: '#111', align: 'left', verticalAlign: 'middle' } },
  { type: 'text', x: 574, y: 531, style: { text: 'i', font: 'italic 11px ' + SERIF, fill: '#111', align: 'left', verticalAlign: 'middle' } },
  { type: 'text', x: 581, y: 523, style: { text: '{v|A}{sb|i}{v|t}{sb|i}', align: 'left', verticalAlign: 'middle', rich: fracRich } },
  { type: 'text', x: 599, y: 515, style: { text: '2', font: 'italic 10px ' + SERIF, fill: '#111', align: 'left', verticalAlign: 'middle' } },
  { type: 'text', x: 566, y: 557, style: { text: '\u2211', font: '24px ' + SERIF, fill: '#111', align: 'center', verticalAlign: 'middle' } },
  { type: 'text', x: 574, y: 545, style: { text: 'n', font: 'italic 11px ' + SERIF, fill: '#111', align: 'left', verticalAlign: 'middle' } },
  { type: 'text', x: 581, y: 552, style: { text: '{v|A}{sb|i}{v|t}{sb|i}', align: 'left', verticalAlign: 'middle', rich: fracRich } },
  { type: 'text', x: 708, y: 543, style: { text: '{n|[Where, }{s|A}{sub|i}{n| = Pre exponential factor, t}{sub|i}{n| = time component]}', align: 'left', verticalAlign: 'middle',
      rich: { n: { fontSize: 15.3, fontFamily: FF, lineHeight: 20, verticalAlign: 'middle', fill: '#111' },
              s: { fontSize: 16.5, fontFamily: SERIF, lineHeight: 20, verticalAlign: 'middle', fill: '#111' },
              sub: { fontSize: 10, fontFamily: FF, lineHeight: 10, verticalAlign: 'bottom', fill: '#111' } } } }
];

const option = {
  animation: false,
  backgroundColor: '#fff',
  grid: [
    { left: 93, top: 17, width: 496, height: 404, outerBoundsMode: 'none', containLabel: false },
    { left: 694, top: 20, width: 489, height: 402, outerBoundsMode: 'none', containLabel: false }
  ],
  xAxis: [
    xBottom(0, 3.82, 30, xTicksA), xTop(0, 3.82, 30, xTicksA),
    xBottom(1, 3.8, 27.65, xTicksB), xTop(1, 3.8, 27.65, xTicksB)
  ],
  yAxis: [
    yLeft(0, 0.001, 1.213, 62), yRight(0, 0.001, 1.213, true),
    yLeft(1, 0.0005, 1.19, 62), yRight(1, 0.0005, 1.19, false)
  ],
  series: [
    { name: 'Decay data', type: 'scatter', xAxisIndex: 0, yAxisIndex: 0, data: scatterA, symbol: 'circle', symbolSize: 5,
      itemStyle: { color: '#1a1aff' }, silent: true, z: 2 },
    { name: 'Fitted Curve', type: 'line', xAxisIndex: 0, yAxisIndex: 0, data: fitA, showSymbol: false, symbol: 'none',
      smooth: false, lineStyle: { color: '#8b0000', width: 3.5 }, z: 3, silent: true },
    { name: 'Decay data b', type: 'scatter', xAxisIndex: 2, yAxisIndex: 2, data: scatterB, symbol: 'circle', symbolSize: 5,
      itemStyle: { color: '#ff1010' }, silent: true, z: 2 },
    { name: 'Fitted Curve b', type: 'line', xAxisIndex: 2, yAxisIndex: 2, data: fitB, showSymbol: false, symbol: 'none',
      smooth: false, lineStyle: { color: '#8000ff', width: 3.5 }, z: 3, silent: true }
  ],
  graphic: graphic
};

const chart = echarts.init(document.getElementById('c'), null, { renderer: 'canvas' });
chart.setOption(option);
</script></body></html>
